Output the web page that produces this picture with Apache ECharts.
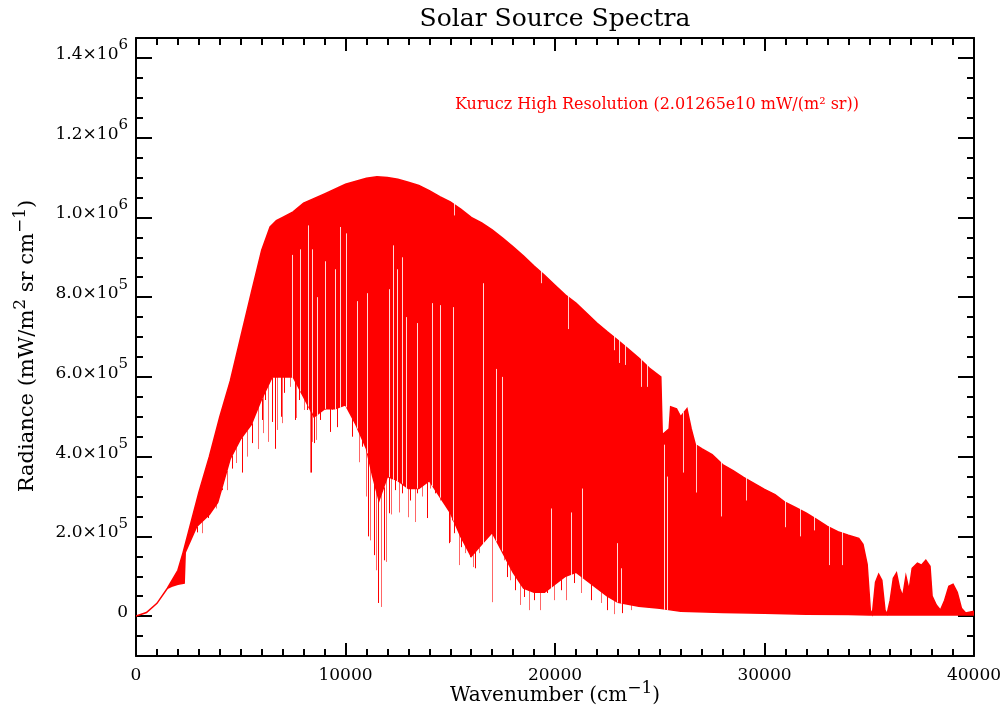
<!DOCTYPE html>
<html>
<head>
<meta charset="utf-8">
<script src="https://cdn.jsdelivr.net/npm/echarts@6/dist/echarts.min.js"></script>
<style>
  html, body { margin: 0; padding: 0; background: #fff; }
  #chart { width: 1006px; height: 712px; }
</style>
</head>
<body>
<div id="chart"></div>
<script>
// Continuum (upper envelope) of the Kurucz high-resolution solar spectrum
const contWn = [0, 500, 1000, 1500, 2000, 2250, 2500, 3000, 3500, 4000, 4500, 5000, 5500, 6000,
  6400, 6700, 7000, 7500, 8000, 9000, 10000, 11000, 11500, 12000, 12500, 13000, 13500, 14000,
  14500, 15000, 15500, 16000, 16500, 17000, 17500, 18000, 18500, 19000, 19500, 20000, 20500,
  21000, 21500, 22000, 22500, 23000, 23500, 24000, 24500, 25050, 25120, 25450, 25520, 25800,
  26000, 26300, 26500, 26700, 27000, 27500, 28000, 28500, 29000, 29500, 30000, 30500, 31000,
  31500, 32000, 32500, 33000, 33500, 34000, 34500, 34700, 34900, 35050, 35150, 35300, 35450,
  35600, 35750, 35850, 36000, 36150, 36300, 36450, 36600, 36750, 36900, 37050, 37300, 37500,
  37700, 37900, 38000, 38200, 38400, 38600, 38800, 39000, 39200, 39400, 39600, 40000];
const contVal = [0, 9000, 32000, 70000, 115000, 160000, 210000, 310000, 400000, 500000, 590000,
  700000, 810000, 918000, 976000, 992000, 1000000, 1014000, 1036000, 1059000, 1083000, 1098000,
  1102000, 1100000, 1096000, 1088000, 1080000, 1067000, 1052000, 1039000, 1021000, 1000000,
  986000, 969000, 948000, 926000, 903000, 878000, 855000, 830000, 805000, 785000, 760000, 735000,
  713000, 692000, 670000, 647000, 622000, 600000, 455000, 470000, 525000, 520000, 500000, 520000,
  470000, 430000, 420000, 405000, 380000, 365000, 348000, 333000, 318000, 305000, 285000, 272000,
  258000, 242000, 225000, 212000, 203000, 195000, 180000, 130000, 15000, 5000, 85000, 105000,
  90000, 15000, 5000, 40000, 95000, 108000, 70000, 50000, 100000, 65000, 120000, 133000, 128000,
  140000, 125000, 50000, 28000, 15000, 40000, 75000, 80000, 60000, 20000, 8000, 12000];

// Floor of the densely packed absorption-line region
const floorWn = [0, 500, 1000, 1500, 1700, 2000, 2300, 2350, 2900, 3500, 3900, 4500, 5000, 5500,
  6000, 6500, 7000, 7500, 8000, 8500, 9000, 9500, 10000, 10500, 11000, 11300, 11600, 12000,
  12500, 13000, 13500, 14000, 14500, 15000, 15500, 16000, 16500, 17000, 17500, 18000, 18500,
  19000, 19500, 20000, 20500, 21000, 21500, 22000, 22500, 23000, 24000, 25000, 26000, 28000,
  30000, 32000, 34000, 35000, 40000];
const floorVal = [0, 9000, 32000, 70000, 75000, 80000, 83000, 160000, 225000, 255000, 285000,
  395000, 445000, 480000, 545000, 600000, 600000, 600000, 550000, 500000, 520000, 520000, 530000,
  480000, 420000, 350000, 290000, 350000, 340000, 320000, 320000, 340000, 300000, 260000, 200000,
  150000, 180000, 210000, 160000, 110000, 70000, 60000, 60000, 80000, 100000, 110000, 90000,
  70000, 50000, 35000, 25000, 20000, 12000, 9000, 7000, 5000, 4000, 3000, 3000];

// Deep absorption lines: centre wavenumber (cm-1) and core radiance
const lineWn = [2900, 3140, 3456, 3823, 4095, 4334, 4573, 4779, 5049, 5289, 5528, 5846, 6005,
  6085, 6165, 6293, 6484, 6611, 6643, 6722, 6914, 6962, 7041, 7328, 7599, 7630, 7758, 7997, 8156,
  8315, 8347, 8395, 8475, 8602, 8793, 9032, 9240, 9351, 9590, 9622, 9829, 10100, 10307, 10626,
  10786, 10992, 11056, 11183, 11342, 11438, 11534, 11709, 11820, 11948, 12059, 12171, 12378,
  12569, 12697, 12984, 13094, 13302, 13413, 13652, 13891, 14050, 14289, 14528, 14688, 14815,
  14926, 14974, 15086, 15165, 15197, 15404, 15516, 15723, 15962, 16073, 16201, 16360, 16679,
  16998, 17157, 17555, 17714, 17873, 18112, 18351, 18510, 18749, 18988, 19307, 19626, 19945,
  20264, 20502, 20900, 21219, 21697, 22175, 22494, 22812, 23210, 23608];
const lineMin = [210000, 208000, 246000, 270000, 316000, 316000, 370000, 384000, 360000, 400000,
  434000, 419000, 492000, 459000, 542000, 437000, 487000, 420000, 420000, 467000, 500000, 484000,
  560000, 575000, 492000, 497000, 542000, 517000, 517000, 360000, 360000, 437000, 434000, 442000,
  492000, 517000, 462000, 517000, 474000, 550000, 575000, 525000, 450000, 386000, 425000, 300000,
  200000, 190000, 153000, 115000, 33000, 23000, 140000, 136000, 258000, 255000, 316000, 260000,
  308000, 248000, 290000, 236000, 308000, 300000, 246000, 320000, 308000, 290000, 291000, 324000,
  183000, 186000, 240000, 216000, 208000, 128000, 173000, 158000, 148000, 123000, 120000, 158000,
  216000, 35000, 208000, 140000, 98000, 90000, 65000, 28000, 48000, 15000, 40000, 15000, 58000,
  40000, 65000, 40000, 83000, 58000, 40000, 33000, 15000, 5000, 7500, 15000];

// Windows between lines, rising from the floor up to the given radiance
const gapWn = [7450, 7840, 8220, 8400, 8650, 9030, 9510, 9750, 10040, 10560, 11040, 12090, 12280,
  12470, 12710, 12900, 13430, 14150, 14530, 15150, 16540, 17200, 17450, 19800, 20750, 21300,
  22950, 23150, 25200, 25350];
const gapTop = [906000, 920000, 980000, 920000, 800000, 890000, 870000, 976000, 960000, 790000,
  810000, 820000, 930000, 870000, 900000, 750000, 735000, 785000, 780000, 775000, 835000, 620000,
  600000, 270000, 260000, 320000, 183000, 120000, 430000, 350000];

// Narrow lines cutting down from the continuum
const notchWn = [15200, 19350, 20600, 22800, 23050, 23350, 24100, 24400, 26100, 26750, 27900,
  29100, 31000, 31700, 32350, 33100, 33700];
const notchBottom = [1005000, 835000, 720000, 667000, 635000, 630000, 575000, 575000, 360000,
  310000, 250000, 290000, 223000, 200000, 215000, 128000, 128000];

// Axis ticks
const yTicks = [0, 200000, 400000, 600000, 800000, 1000000, 1200000, 1400000];
const xRange = [0, 40000];
const yRange = [-100000, 1450000];

const RED = '#ff0000';
const FONT = 'DejaVu Serif';

function interp(xs, ys, x) {
  if (x <= xs[0]) return ys[0];
  for (let i = 1; i < xs.length; i++) {
    if (x <= xs[i]) {
      const t = (x - xs[i - 1]) / (xs[i] - xs[i - 1]);
      return ys[i - 1] + t * (ys[i] - ys[i - 1]);
    }
  }
  return ys[ys.length - 1];
}

function yLabel(v) {
  if (v === 0) return '{b|0}';
  const e = Math.floor(Math.log10(v) + 1e-9);
  const m = v / Math.pow(10, e);
  return '{b|' + m.toFixed(1) + '×10}{s|' + e + '}';
}

const black = { color: '#000', width: 2 };

const xBase = {
  type: 'value', min: xRange[0], max: xRange[1], interval: 10000,
  axisLine: { show: true, onZero: false, lineStyle: black },
  axisTick: { show: true, inside: true, length: 13, lineStyle: black },
  minorTick: { show: true, splitNumber: 10, length: 7, lineStyle: black },
  splitLine: { show: false }, minorSplitLine: { show: false }
};

const yBase = { type: 'value', min: yRange[0], max: yRange[1], splitLine: { show: false } };

const yMajor = (pos, labels) => Object.assign({}, yBase, {
  position: pos,
  axisLine: { show: true, onZero: false, lineStyle: black },
  axisTick: { show: true, inside: true, length: 16, customValues: yTicks, lineStyle: black },
  axisLabel: labels ? {
    show: true, customValues: yTicks, formatter: yLabel, margin: 8, padding: [0, 0, 8, 0],
    rich: {
      b: { fontFamily: FONT, fontSize: 17, color: '#000', verticalAlign: 'bottom', lineHeight: 18 },
      s: { fontFamily: FONT, fontSize: 15, color: '#000', verticalAlign: 'bottom', lineHeight: 16, padding: [0, 0, 10, 0] }
    }
  } : { show: false }
});

const yMinor = (pos) => Object.assign({}, yBase, {
  position: pos, interval: 50000,
  axisLine: { show: false, onZero: false },
  axisTick: { show: true, inside: true, length: 7, lineStyle: black },
  axisLabel: { show: false }
});

const nameRich = (size) => ({
  b: { fontFamily: FONT, fontSize: size, fill: '#000', verticalAlign: 'bottom', lineHeight: size + 2 },
  s: { fontFamily: FONT, fontSize: 17, fill: '#000', verticalAlign: 'bottom', lineHeight: 19, padding: [0, 0, 9, 0] }
});

const chart = echarts.init(document.getElementById('chart'), null, { renderer: 'canvas' });

chart.setOption({
  animation: false,
  backgroundColor: '#fff',
  grid: { left: 136, right: 32, top: 38, bottom: 56 },
  xAxis: [
    Object.assign({}, xBase, {
      position: 'bottom',
      axisLabel: { margin: 11, fontFamily: FONT, fontSize: 17, color: '#000', formatter: v => String(v) }
    }),
    Object.assign({}, xBase, { position: 'top', axisLabel: { show: false } })
  ],
  yAxis: [yMajor('left', true), yMinor('left'), yMajor('right', false), yMinor('right')],
  graphic: [
    { type: 'text', x: 555, y: 19, style: { text: 'Solar Source Spectra', fontFamily: FONT, fontSize: 25, fill: '#000', align: 'center', verticalAlign: 'middle' } },
    { type: 'text', x: 657, y: 105, style: { text: 'Kurucz High Resolution (2.01265e10 mW/(m² sr))', fontFamily: FONT, fontSize: 16, fill: RED, align: 'center', verticalAlign: 'middle' } },
    { type: 'text', x: 555, y: 695, style: {
      text: '{b|Wavenumber (cm}{s|−1}{b|)}', align: 'center', verticalAlign: 'middle', rich: nameRich(20) } },
    { type: 'text', x: 27, y: 346, rotation: Math.PI / 2, style: {
      text: '{b|Radiance (mW/m}{s|2}{b| sr cm}{s|−1}{b|)}', align: 'center', verticalAlign: 'middle', rich: nameRich(21) } }
  ],
  series: [
    {
      // spectrum band between continuum and line floor
      type: 'custom', name: 'band', clip: true, xAxisIndex: 0, yAxisIndex: 0,
      data: [[0, 0]],
      renderItem: function (params, api) {
        const pts = [];
        for (let i = 0; i < contWn.length; i++) pts.push(api.coord([contWn[i], contVal[i]]));
        for (let i = floorWn.length - 1; i >= 0; i--) pts.push(api.coord([floorWn[i], floorVal[i]]));
        return { type: 'polygon', shape: { points: pts }, style: { fill: RED, stroke: RED, lineWidth: 1.5 } };
      }
    },
    {
      type: 'custom', name: 'gaps', clip: true, xAxisIndex: 0, yAxisIndex: 0,
      data: gapWn.map((w, i) => [w, gapTop[i]]),
      renderItem: function (params, api) {
        const w = api.value(0);
        const p1 = api.coord([w, api.value(1)]);
        const p2 = api.coord([w, interp(floorWn, floorVal, w)]);
        const x = Math.round(p1[0]) + 0.5;
        return { type: 'line', shape: { x1: x, y1: p1[1], x2: x, y2: p2[1] + 1 },
          style: { stroke: 'rgba(255,255,255,0.85)', lineWidth: 1 } };
      }
    },
    {
      type: 'custom', name: 'notches', clip: true, xAxisIndex: 0, yAxisIndex: 0,
      data: notchWn.map((w, i) => [w, notchBottom[i]]),
      renderItem: function (params, api) {
        const w = api.value(0);
        const p1 = api.coord([w, api.value(1)]);
        const p2 = api.coord([w, interp(contWn, contVal, w)]);
        const x = Math.round(p1[0]) + 0.5;
        return { type: 'line', shape: { x1: x, y1: p1[1], x2: x, y2: p2[1] - 2 },
          style: { stroke: 'rgba(255,255,255,0.8)', lineWidth: 1 } };
      }
    },
    {
      type: 'custom', name: 'lines', clip: true, xAxisIndex: 0, yAxisIndex: 0,
      data: lineWn.map((w, i) => [w, lineMin[i]]),
      renderItem: function (params, api) {
        const w = api.value(0);
        const p1 = api.coord([w, api.value(1)]);
        const p2 = api.coord([w, interp(floorWn, floorVal, w)]);
        const x = Math.round(p1[0]) + 0.5;
        return { type: 'line', shape: { x1: x, y1: p1[1], x2: x, y2: p2[1] },
          style: { stroke: params.dataIndex % 2 ? 'rgba(255,0,0,0.6)' : RED, lineWidth: 1 } };
      }
    }
  ]
});
</script>
</body>
</html>
